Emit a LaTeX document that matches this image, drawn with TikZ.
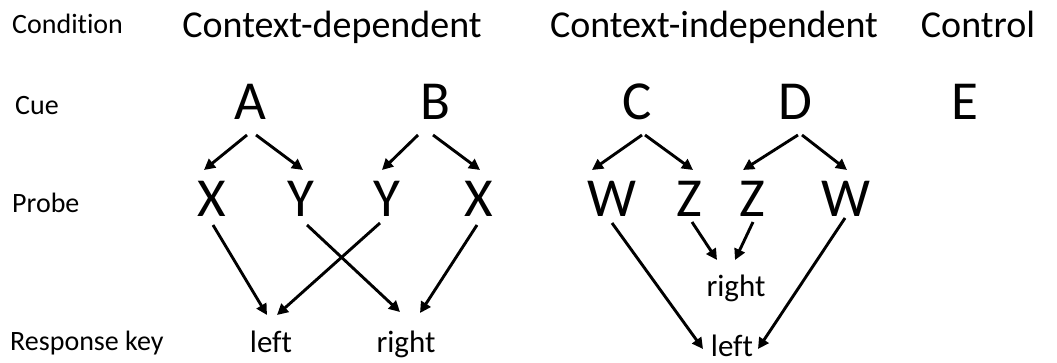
\documentclass[tikz,border=0pt]{standalone}
\usepackage{fontspec}
\setmainfont{Carlito}[Ligatures=NoCommon]
\usetikzlibrary{arrows.meta,calc}
\tikzset{
  lab/.style={anchor=base west,inner sep=0pt,font=\fontsize{28}{30}\selectfont},
  head/.style={anchor=base,inner sep=0pt,font=\fontsize{38}{42}\selectfont},
  big/.style={anchor=base,inner sep=0pt,font=\fontsize{55}{60}\selectfont},
  key/.style={anchor=base,inner sep=0pt,font=\fontsize{31}{34}\selectfont},
  arr/.style={line width=2.9pt,-{Triangle[length=11pt,width=11pt]}}
}
\begin{document}
\begin{tikzpicture}[x=1pt,y=-1pt]
\useasboundingbox[fill=white] (0,0) rectangle (1057,363);
% row labels
\node[lab] (lcond) at (12,34) {Condition};
\node[lab] (lcue) at (15,115) {Cue};
\node[lab] (lprobe) at (12,213) {Probe};
\node[lab] (lresp) at (10,350) {Response key};
% conditions
\node[head] (hcd) at (332,38) {Context-dependent};
\node[head] (hci) at (714,38) {Context-independent};
\node[head] (hco) at (978,38) {Control};
% cues
\node[big] (A) at (250,120) {A};
\node[big] (B) at (435,120) {B};
\node[big] (C) at (637,120) {C};
\node[big] (D) at (795,120) {D};
\node[big] (E) at (965,120) {E};
% probes
\node[big] (X1) at (212,217) {X};
\node[big] (Y1) at (301,217) {Y};
\node[big] (Y2) at (387,217) {Y};
\node[big] (X2) at (479,217) {X};
\node[big] (W1) at (612,217) {W};
\node[big] (Z1) at (689,217) {Z};
\node[big] (Z2) at (752,217) {Z};
\node[big] (W2) at (846,217) {W};
% response keys
\node[key] (left1) at (271,352) {left};
\node[key] (right1) at (406,352) {right};
\node[key] (right2) at (736,297) {right};
\node[key] (left2) at (732,356) {left};
% cue -> probe
\draw[arr] ($(A.base)+(-3,15)$) -- ($(X1.base)+(-8,-47)$);
\draw[arr] ($(A.base)+(6,15)$) -- ($(Y1.base)+(2,-47)$);
\draw[arr] ($(B.base)+(-17,15)$) -- ($(Y2.base)+(-5,-47)$);
\draw[arr] ($(B.base)+(-2,15)$) -- ($(X2.base)+(1,-47)$);
\draw[arr] ($(C.base)+(5,15)$) -- ($(W1.base)+(-20,-47)$);
\draw[arr] ($(C.base)+(8,15)$) -- ($(Z1.base)+(4,-47)$);
\draw[arr] ($(D.base)+(3,15)$) -- ($(Z2.base)+(-9,-47)$);
\draw[arr] ($(D.base)+(7,15)$) -- ($(W2.base)+(1,-47)$);
% probe -> response
\draw[arr] ($(X1.base)+(1,8)$) -- ($(left1.base)+(-4,-37)$);
\draw[arr] ($(Y2.base)+(-7,6)$) -- ($(left1.base)+(6,-37)$);
\draw[arr] ($(Y1.base)+(6,8)$) -- ($(right1.base)+(-6,-40)$);
\draw[arr] ($(X2.base)+(-2,8)$) -- ($(right1.base)+(14,-39)$);
\draw[arr] ($(Z1.base)+(3,5)$) -- ($(right2.base)+(-19,-37)$);
\draw[arr] ($(Z2.base)+(1,5)$) -- ($(right2.base)+(-1,-37)$);
\draw[arr] ($(W1.base)+(0,6)$) -- ($(left2.base)+(-29,-7)$);
\draw[arr] ($(W2.base)+(-1,1)$) -- ($(left2.base)+(26,-7)$);
\end{tikzpicture}
\end{document}
